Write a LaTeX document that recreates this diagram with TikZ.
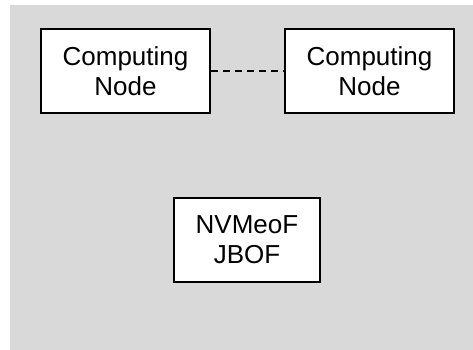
\documentclass[tikz,border=0pt]{standalone}
\usepackage{fontspec}
\setmainfont{Liberation Sans}
\begin{document}
\begin{tikzpicture}[x=1pt,y=-1pt,
  box/.style={draw=black,line width=1.5pt,fill=white,align=center,inner sep=0pt,
    font=\fontsize{26}{30}\selectfont},
  link/.style={line width=1.5pt,dash pattern=on 7pt off 5pt}]
\useasboundingbox (0,0) rectangle (473,350);
\fill[fill={rgb,255:red,217;green,217;blue,217}] (10,5) rectangle (473,350);
\node[box,minimum width=169pt,minimum height=84pt] (c1) at (125.5,71) {Computing\\Node};
\node[box,minimum width=169pt,minimum height=84pt] (c2) at (369.5,71) {Computing\\Node};
\node[box,minimum width=146pt,minimum height=84pt] (j) at (247,240) {NVMeoF\\JBOF};
\draw[link] (c1.east) -- (c2.west);
\end{tikzpicture}
\end{document}
